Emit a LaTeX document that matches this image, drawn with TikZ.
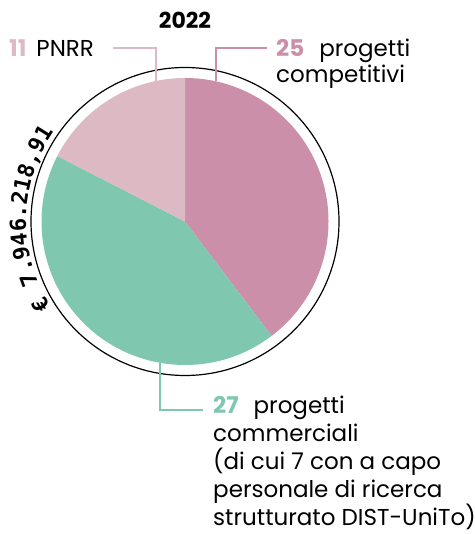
\documentclass[tikz,border=0pt]{standalone}
\usepackage{fontspec}
\setmainfont{Poppins}
\newfontfamily\monofnt{DejaVu Sans Mono}
\usetikzlibrary{decorations.text}
\definecolor{darkpink}{HTML}{CB8FA9}
\definecolor{lightpink}{HTML}{DDB9C4}
\definecolor{mint}{HTML}{80C7B0}
\begin{document}
\begin{tikzpicture}[x=1pt,y=1pt,
  leader/.style={line width=2pt},
  lbl/.style={inner sep=0pt, align=left, font=\fontsize{23}{26}\selectfont},
]
\useasboundingbox (0,0) rectangle (474,534);
\coordinate (C) at (185,312.5);
\def\R{143.5}
% slices
\fill[darkpink] (C) -- ++(90:\R) arc[start angle=90,end angle=-52.86,radius=\R] -- cycle;
\fill[mint] (C) -- ++(-52.86:\R) arc[start angle=-52.86,end angle=-207.14,radius=\R] -- cycle;
\fill[lightpink] (C) -- ++(152.86:\R) arc[start angle=152.86,end angle=90,radius=\R] -- cycle;
% outer ring
\draw[line width=1.2pt] (C) circle[radius=154];
% curved amount
\path[decorate,decoration={text along path,text align=center,
  text={|\monofnt\bfseries\fontsize{22}{22}\selectfont|€ 7.946.218,91}}]
  (C) ++(223:159) arc[start angle=223,end angle=135,radius=159];
% title
\node[font=\fontsize{22}{26}\selectfont\bfseries, anchor=base] (title) at (185,505) {2022};
% labels
\node[lbl, anchor=base west] (pnrr) at (9,477) {\textcolor{lightpink}{\bfseries 11}\hspace{10pt}PNRR};
\node[lbl, anchor=base west] (comp) at (276,451) {\textcolor{darkpink}{\bfseries 25}\hspace{15pt}progetti\\competitivi};
\node[lbl, anchor=base west, font=\fontsize{23}{28}\selectfont] (comm) at (213,8.5) {\textcolor{mint}{\bfseries 27}\hspace{15pt}progetti\\commerciali\\(di cui 7 con a capo\\personale di ricerca\\strutturato DIST-UniTo)};
% leader anchors
\coordinate (p1) at (156,453);
\coordinate (p2) at (216,452.6);
\coordinate (p3) at (160,171);
\draw[leader, lightpink] (p1) |- (113,486) coordinate (e1);
\draw[leader, darkpink] (p2) |- (267,486) coordinate (e2);
\draw[leader, mint] (p3) |- (203,124) coordinate (e3);
\end{tikzpicture}
\end{document}
